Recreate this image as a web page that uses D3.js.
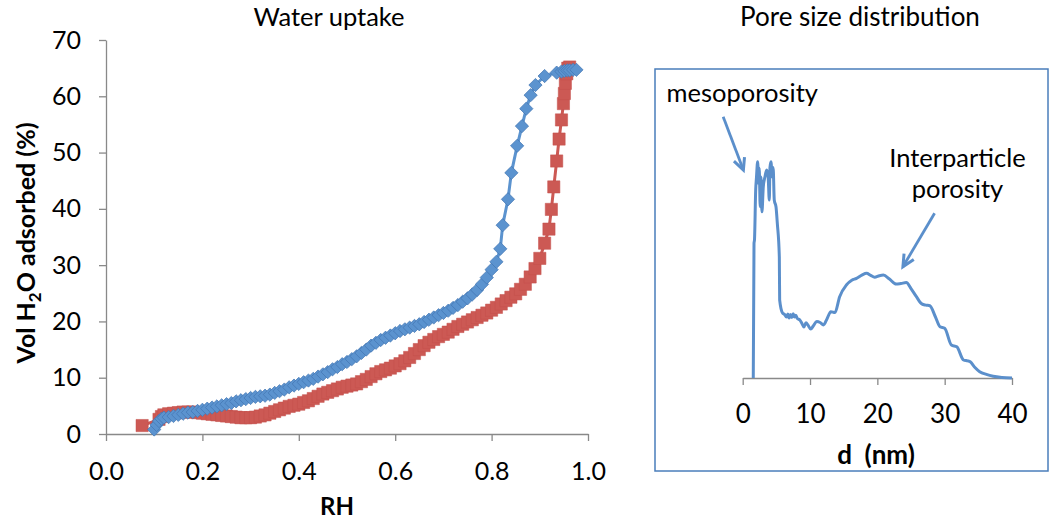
<!DOCTYPE html>
<html><head><meta charset="utf-8">
<script src="https://cdn.jsdelivr.net/npm/d3@7"></script>
<style>
body{margin:0;background:#fff}
text{font-family:Lato,'Open Sans',sans-serif;fill:#000}
</style>
</head><body>
<svg id="c" width="1050" height="522"></svg>
<script>
// ---------- DATA ----------
const adsorption = [[0.075,1.5],[0.110,2.6],[0.115,3.1],[0.12,3.4],[0.13,3.6],[0.14,3.7],[0.15,3.8],[0.16,3.9],[0.17,3.9],[0.18,3.9],[0.19,3.8],[0.20,3.7],[0.21,3.6],[0.22,3.5],[0.23,3.4],[0.24,3.3],[0.25,3.2],[0.26,3.1],[0.27,3.0],[0.28,2.9],[0.29,2.9],[0.30,2.9],[0.31,3.0],[0.32,3.2],[0.33,3.4],[0.34,3.7],[0.35,4.0],[0.36,4.3],[0.37,4.6],[0.38,4.9],[0.39,5.1],[0.40,5.3],[0.41,5.6],[0.42,5.9],[0.43,6.3],[0.44,6.7],[0.45,7.1],[0.46,7.4],[0.47,7.7],[0.48,8.0],[0.49,8.3],[0.50,8.5],[0.51,8.7],[0.52,8.9],[0.53,9.3],[0.54,9.7],[0.55,10.2],[0.56,10.7],[0.57,11.1],[0.58,11.4],[0.59,11.7],[0.60,12.1],[0.61,12.5],[0.62,13.0],[0.63,13.6],[0.64,14.3],[0.65,15.0],[0.66,15.7],[0.67,16.3],[0.68,16.8],[0.69,17.3],[0.70,17.7],[0.71,18.1],[0.72,18.6],[0.73,19.1],[0.74,19.5],[0.75,19.9],[0.76,20.3],[0.77,20.7],[0.78,21.1],[0.79,21.5],[0.80,22.0],[0.81,22.5],[0.82,23.1],[0.83,23.7],[0.84,24.3],[0.85,24.9],[0.86,25.7],[0.87,26.6],[0.88,27.9],[0.89,29.4],[0.90,31.2],[0.91,33.9],[0.919,36.4],[0.924,39.9],[0.929,43.9],[0.935,48.5],[0.940,52.4],[0.945,55.8],[0.949,58.7],[0.951,60.5],[0.953,62.3],[0.956,64.0],[0.958,65.0],[0.962,65.2]];

const desorption = [[0.100,0.8],[0.105,1.6],[0.110,2.3],[0.115,2.7],[0.12,2.9],[0.13,3.0],[0.14,3.2],[0.15,3.4],[0.16,3.6],[0.17,3.8],[0.18,3.9],[0.19,4.1],[0.20,4.3],[0.21,4.5],[0.22,4.7],[0.23,4.9],[0.24,5.1],[0.25,5.3],[0.26,5.5],[0.27,5.8],[0.28,6.0],[0.29,6.2],[0.30,6.4],[0.31,6.6],[0.32,6.7],[0.33,6.8],[0.34,7.0],[0.35,7.3],[0.36,7.6],[0.37,7.9],[0.38,8.3],[0.39,8.6],[0.40,8.9],[0.41,9.2],[0.42,9.5],[0.43,9.8],[0.44,10.2],[0.45,10.6],[0.46,11.0],[0.47,11.5],[0.48,11.9],[0.49,12.4],[0.50,12.8],[0.51,13.3],[0.52,13.8],[0.53,14.4],[0.54,15.0],[0.55,15.7],[0.56,16.2],[0.57,16.7],[0.58,17.1],[0.59,17.5],[0.60,17.9],[0.61,18.3],[0.62,18.6],[0.63,18.9],[0.64,19.2],[0.65,19.5],[0.66,19.9],[0.67,20.3],[0.68,20.7],[0.69,21.1],[0.70,21.5],[0.71,21.9],[0.72,22.4],[0.73,22.9],[0.74,23.5],[0.75,24.1],[0.76,24.8],[0.77,25.6],[0.78,26.6],[0.79,27.8],[0.80,29.2],[0.81,30.6],[0.818,32.9],[0.823,37.1],[0.834,41.7],[0.841,46.4],[0.853,51.2],[0.863,54.7],[0.872,57.8],[0.881,60.2],[0.891,62.0],[0.910,63.6],[0.935,64.2],[0.945,64.4],[0.951,64.5],[0.957,64.6],[0.962,64.6],[0.969,64.7],[0.976,64.7]];

const rhTicks = [0, 0.2, 0.4, 0.6, 0.8, 1.0];
const volTicks = [0, 10, 20, 30, 40, 50, 60, 70];

const poreDist = [[1.57,0],[1.68,44.9],[1.75,46],[1.93,62.7],[2.05,67],[2.22,72.1],[2.37,64.8],[2.45,70],[2.6,57.1],[2.72,67],[2.86,55.4],[3.06,63.8],[3.3,67],[3.56,69.3],[3.78,67],[3.95,59.3],[4.05,70.2],[4.2,72.1],[4.38,67],[4.52,70.2],[4.69,59.3],[4.95,57],[5.14,51.6],[5.44,40.4],[5.49,26],[5.93,21.6],[6.2,21.2],[6.5,20.3],[6.7,21.3],[6.9,20.0],[7.1,21.2],[7.3,20.2],[7.5,21.4],[7.7,20.3],[7.9,20.9],[8.1,19.9],[8.5,19.3],[8.8,18.2],[9.1,17.0],[9.4,18.4],[9.7,17.6],[10.1,16.3],[10.5,17.4],[11.0,18.8],[11.5,18.5],[12.0,17.7],[12.5,19.6],[13.1,22.1],[13.7,21.8],[14.4,27.1],[15.4,31.0],[16.2,32.6],[16.9,33.2],[17.7,34.3],[18.4,34.9],[19.0,34.2],[19.6,33.6],[20.3,34.1],[20.9,34.3],[21.8,33.0],[22.8,31.3],[23.5,31.5],[24.3,31.8],[25.0,29.8],[25.8,27.1],[26.6,24.7],[27.2,24.3],[27.8,24.1],[28.6,20.5],[29.3,17.1],[30.0,16.6],[31.0,11.0],[31.8,10.4],[32.8,6.0],[33.4,5.7],[33.8,5.4],[34.5,3.5],[35.2,2.1],[36.2,1.2],[37.2,0.6],[38.5,0.2],[40,0]];
const dTicks = [0, 10, 20, 30, 40];

// annotations (in pore-chart data units)
const annotations = [
  {lines:["mesoporosity"], d:-11.3, v:92.1, anchor:"start", from:[-2.9,87.1], to:[0.1,69.3]},
  {lines:["Interparticle","porosity"], d:31.9, v:70.3, anchor:"middle", from:[28.5,54.9], to:[23.8,37.1]}
];

// ---------- DRAW ----------
const svg = d3.select("#c");
const axisColor = "#898989";
const blue = "#5b93cf", red = "#cc5954", curveBlue = "#5b8fcb";
const FONT = "Lato,'Open Sans',sans-serif";

// Left chart
const x = d3.scaleLinear().domain([0,1]).range([106,588]);
const y = d3.scaleLinear().domain([0,70]).range([434,40]);

svg.append("text").attr("x",329).attr("y",26).attr("text-anchor","middle")
  .style("font-size","25.5px").text("Water uptake");

const gx = svg.append("g").attr("transform","translate(0,434)")
  .call(d3.axisBottom(x).tickValues(rhTicks).tickFormat(d3.format(".1f")).tickSize(7).tickSizeOuter(0).tickPadding(21));
const gy = svg.append("g").attr("transform","translate(106,0)")
  .call(d3.axisLeft(y).tickValues(volTicks).tickSize(7).tickSizeOuter(0).tickPadding(18));
[gx,gy].forEach(g=>{
  g.selectAll("path,line").attr("stroke",axisColor).attr("stroke-width",1.3);
  g.selectAll("text").style("font-size","25px").style("font-family",FONT).attr("fill","#000");
});

svg.append("text").attr("x",337).attr("y",515).attr("text-anchor","middle")
  .style("font-size","24px").style("font-weight","bold").text("RH");

const yl = svg.append("text").attr("transform","translate(35,243) rotate(-90)")
  .attr("text-anchor","middle").style("font-size","25px").style("font-weight","bold");
yl.append("tspan").text("Vol H");
yl.append("tspan").attr("dy",6).style("font-size","17px").text("2");
yl.append("tspan").attr("dy",-6).text("O adsorbed (%)");

const line = d3.line().x(d=>x(d[0])).y(d=>y(d[1]));
// adsorption (red squares)
svg.append("path").datum(adsorption).attr("d",line).attr("fill","none").attr("stroke",red).attr("stroke-width",3);
svg.append("g").selectAll("path").data(adsorption).join("path")
  .attr("d", d3.symbol(d3.symbolSquare, 150))
  .attr("transform", d=>`translate(${x(d[0])},${y(d[1])})`)
  .attr("fill",red).attr("stroke","#c4514c").attr("stroke-width",0.5);
// desorption (blue diamonds)
svg.append("path").datum(desorption).attr("d",line).attr("fill","none").attr("stroke",blue).attr("stroke-width",3);
svg.append("g").selectAll("path").data(desorption).join("path")
  .attr("d", d3.symbol(d3.symbolSquare, 88))
  .attr("transform", d=>`translate(${x(d[0])},${y(d[1])}) rotate(45)`)
  .attr("fill",blue).attr("stroke","#4477b3").attr("stroke-width",0.7);

// Right chart
svg.append("text").attr("x",860).attr("y",26).attr("text-anchor","middle")
  .style("font-size","26px").text("Pore size distribution");

svg.append("rect").attr("x",655).attr("y",69).attr("width",393).attr("height",402)
  .attr("fill","none").attr("stroke","#4a7ebb").attr("stroke-width",1.5);

const x2 = d3.scaleLinear().domain([0,40]).range([742.7,1012]);
const y2 = d3.scaleLinear().domain([0,100]).range([378,78]);

const gx2 = svg.append("g").attr("transform","translate(0,378)")
  .call(d3.axisBottom(x2).tickValues(dTicks).tickSize(7).tickSizeOuter(0).tickPadding(20));
gx2.selectAll("path,line").attr("stroke",axisColor).attr("stroke-width",1.3);
gx2.selectAll("text").style("font-size","26px").style("font-family",FONT).attr("fill","#000");

svg.append("text").attr("x",876).attr("y",464).attr("text-anchor","middle")
  .style("font-size","26px").style("font-weight","bold").attr("xml:space","preserve").text("d  (nm)");

svg.append("path").datum(poreDist)
  .attr("d", d3.line().x(d=>x2(d[0])).y(d=>y2(d[1])).curve(d3.curveMonotoneX))
  .attr("fill","none").attr("stroke",curveBlue).attr("stroke-width",3).attr("stroke-linejoin","round");

annotations.forEach(a=>{
  const t = svg.append("text").attr("x",x2(a.d)).attr("y",y2(a.v)).attr("text-anchor",a.anchor).style("font-size","25.5px");
  a.lines.forEach((s,i)=> t.append("tspan").attr("x",x2(a.d)).attr("dy", i===0?0:31).text(s));
  const x0=x2(a.from[0]), y0=y2(a.from[1]), x1=x2(a.to[0]), y1=y2(a.to[1]);
  svg.append("line").attr("x1",x0).attr("y1",y0).attr("x2",x1).attr("y2",y1)
    .attr("stroke",curveBlue).attr("stroke-width",2.8);
  const ang = Math.atan2(y1-y0,x1-x0), L=13, spread=0.45;
  const p = [[x1-L*Math.cos(ang-spread), y1-L*Math.sin(ang-spread)],[x1,y1],[x1-L*Math.cos(ang+spread), y1-L*Math.sin(ang+spread)]];
  svg.append("path").attr("d", d3.line()(p)).attr("fill","none").attr("stroke",curveBlue)
    .attr("stroke-width",3).attr("stroke-linejoin","miter");
});
</script>
</body></html>
